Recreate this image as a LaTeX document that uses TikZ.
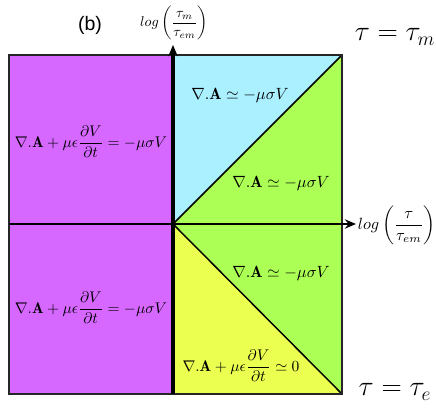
\documentclass[tikz,border=0pt]{standalone}
\usepackage{amsmath,amssymb}
\usepackage{fontspec}
\newfontfamily\panelfont{Liberation Sans}
\usetikzlibrary{arrows.meta}
\definecolor{regpurple}{RGB}{214,104,255}
\definecolor{regcyan}{RGB}{170,240,255}
\definecolor{reggreen}{RGB}{172,255,85}
\definecolor{regyellow}{RGB}{234,255,80}

\begin{document}
\begin{tikzpicture}[x=0.0216cm,y=-0.0216cm,
  eq/.style={inner sep=1pt},
  feq/.style={inner sep=1pt,scale=0.95},
  lim/.style={font=\LARGE,inner sep=0pt},
  ax/.style={-{Stealth[length=2.4mm,width=2mm]},line width=1.1pt}]
\useasboundingbox (0,0) rectangle (436,407);
\coordinate (o)  at (173,224);
\coordinate (tl) at (9,55);
\coordinate (tr) at (342,55);
\coordinate (br) at (342,394);
\coordinate (bl) at (9,394);
% regions
\fill[regpurple] (tl) rectangle (o |- bl);
\fill[regcyan]   (o) -- (o |- tr) -- (tr) -- cycle;
\fill[reggreen]  (o) -- (tr) -- (br) -- cycle;
\fill[regyellow] (o) -- (br) -- (o |- br) -- cycle;
\draw[line width=0.9pt] (o) -- (tr) (o) -- (br);
\draw[line width=1.1pt,black!85] (tl) rectangle (br);
% axes
\node (xlab) [anchor=west,inner sep=1pt] at (356,225) {$log\left(\dfrac{\tau}{\tau_{em}}\right)$};
\node (ylab) [anchor=north,inner sep=0pt,scale=0.87] at (174,6) {$log\left(\dfrac{\tau_m}{\tau_{em}}\right)$};
\coordinate (xtip) at (356,224);
\coordinate (ytip) at (173,45);
\draw[ax] (bl |- o) -- (xtip);
\draw[ax,line width=2pt] (o |- bl) -- (ytip);
% labels
\node (pb) [font=\panelfont\large] at (90,25) {(b)};
\node (tm) [lim] at (395,37) {$\tau=\tau_m$};
\node (te) [lim] at (395,392) {$\tau=\tau_e$};
\node (r1) [feq] at (91,142) {$\nabla.\mathbf{A}+\mu\epsilon\dfrac{\partial V}{\partial t}=-\mu\sigma V$};
\node (r2) [feq] at (91,308) {$\nabla.\mathbf{A}+\mu\epsilon\dfrac{\partial V}{\partial t}=-\mu\sigma V$};
\node (r3) [eq] at (240,95) {$\nabla.\mathbf{A}\simeq-\mu\sigma V$};
\node (r4) [eq] at (281,183) {$\nabla.\mathbf{A}\simeq-\mu\sigma V$};
\node (r5) [eq] at (281,273) {$\nabla.\mathbf{A}\simeq-\mu\sigma V$};
\node (r6) [feq] at (241,366) {$\nabla.\mathbf{A}+\mu\epsilon\dfrac{\partial V}{\partial t}\simeq0$};
\end{tikzpicture}
\end{document}
